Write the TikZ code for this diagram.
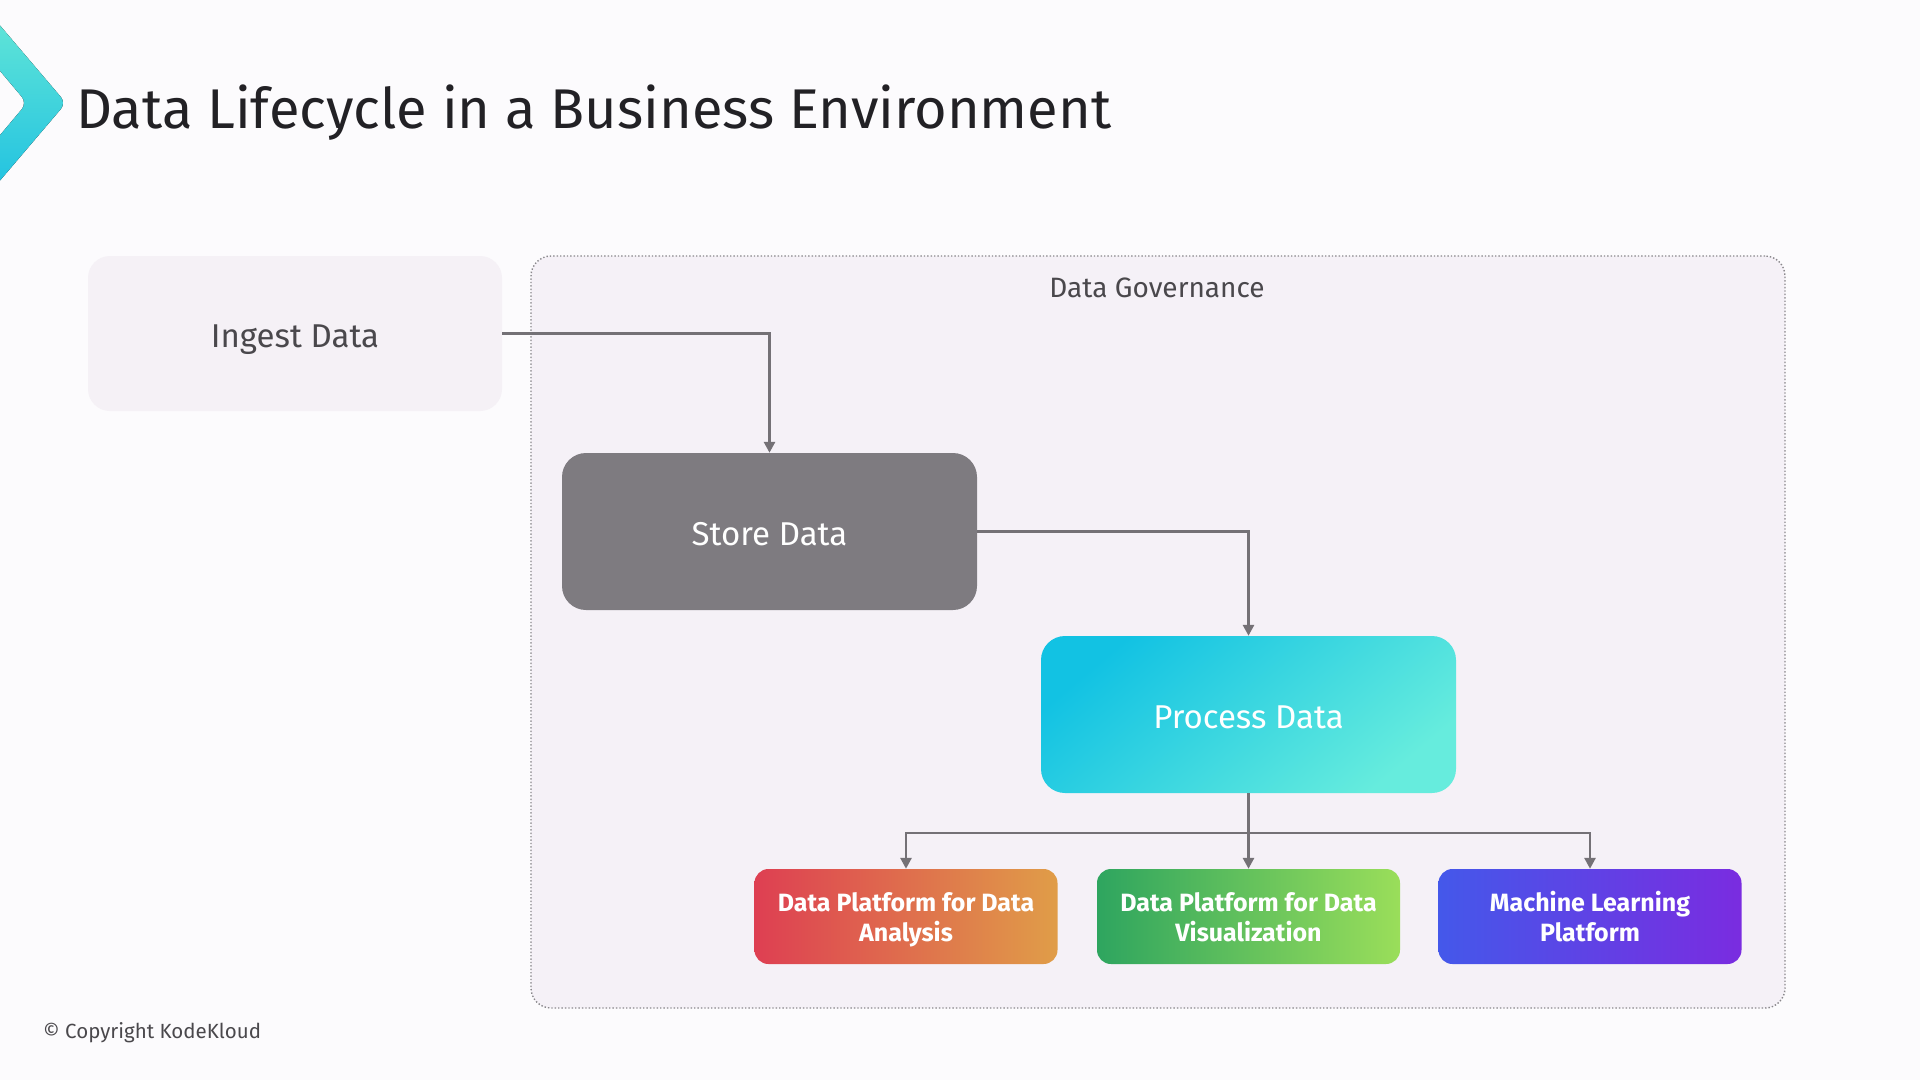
\documentclass[tikz,border=0pt]{standalone}
\usepackage{fontspec}
\setmainfont{Fira Sans}
\usetikzlibrary{arrows.meta}
\definecolor{bgc}{HTML}{FCFBFD}
\definecolor{lightbox}{HTML}{F5F1F6}
\definecolor{govfill}{HTML}{F5F1F7}
\definecolor{govline}{HTML}{8A888C}
\definecolor{storec}{HTML}{7E7B80}
\definecolor{arrowc}{HTML}{747176}
\definecolor{titlec}{HTML}{222125}
\definecolor{labelc}{HTML}{4A484C}
\definecolor{chevA}{HTML}{66E8D6}
\definecolor{chevB}{HTML}{1CBFE2}
\definecolor{procA}{HTML}{12C2E3}
\definecolor{procB}{HTML}{66ECDD}
\definecolor{redA}{HTML}{DE3F52}
\definecolor{redB}{HTML}{E09D48}
\definecolor{grnA}{HTML}{2EA55F}
\definecolor{grnB}{HTML}{9ADE5A}
\definecolor{bluA}{HTML}{4458EA}
\definecolor{bluB}{HTML}{7A2CE0}
\newcommand{\toprule}{\rule{0pt}{28pt}}
\begin{document}
\begin{tikzpicture}[x=1pt,y=-1pt,
  boxbase/.style={rectangle, inner sep=0pt, align=center},
  bigtext/.style={font=\fontsize{33}{38}\selectfont, text height=28pt, text depth=0pt},
  ingestbox/.style={boxbase, bigtext, fill=lightbox, rounded corners=22pt, minimum width=414pt, minimum height=155pt, text=labelc},
  govbox/.style={boxbase, fill=govfill, draw=govline, line width=1.4pt, dotted, rounded corners=20pt, minimum width=1254pt, minimum height=752pt},
  govlabel/.style={inner sep=0pt, text=labelc, font=\fontsize{28}{32}\selectfont},
  storebox/.style={boxbase, bigtext, fill=storec, rounded corners=24pt, minimum width=415pt, minimum height=157pt, text=white},
  procbox/.style={boxbase, bigtext, rounded corners=24pt, top color=procA, middle color=procA, bottom color=procB, shading angle=40, minimum width=415pt, minimum height=157pt, text=white},
  platbox/.style={boxbase, rounded corners=14pt, minimum width=303pt, minimum height=95pt, text=white, font=\fontsize{25}{30}\selectfont\bfseries},
  conn/.style={draw=arrowc, line width=2.8pt, -{Triangle[length=11pt,width=11pt]}}
]
\useasboundingbox (0,0) rectangle (1920,1080);
\fill[bgc] (0,0) rectangle (1920,1080);

% chevron logo
\fill[rounded corners=8pt, top color=chevA, bottom color=chevB]
  (-20,2) -- (66,103) -- (-20,204) -- (-20,159) -- (27,103) -- (-20,47) -- cycle;

% title
\node[anchor=base west, inner sep=0pt, text=titlec, font=\fontsize{56}{66}\selectfont] (title) at (76,128) {Data Lifecycle in a Business Environment};

% governance container
\node[govbox] (gov) at (1158,632) {};
\node[govlabel] (govl) at (1157,288) {Data Governance};

% main boxes
\node[ingestbox] (ingest) at (295,333.5) {Ingest Data};
\node[storebox] (store) at (769.5,531.5) {Store Data};
\node[procbox] (process) at (1248.5,714.5) {Process Data};

\node[platbox, left color=redA, right color=redB] (b1) at (906,916.5) {\toprule Data Platform for Data\\Analysis\strut};
\node[platbox, left color=grnA, right color=grnB] (b2) at (1248.5,916.5) {\toprule Data Platform for Data\\Visualization\strut};
\node[platbox, left color=bluA, right color=bluB] (b3) at (1590,916.5) {\toprule Machine Learning\\Platform\strut};

% connectors
\draw[conn] (ingest.east) -| (store.north);
\draw[conn] (store.east) -| (process.north);
\coordinate (split) at (1248.5,833);
\draw[conn] (process.south) -- (b2.north);
\draw[conn] (split) -| (b1.north);
\draw[conn] (split) -| (b3.north);

% footer
\node[anchor=west, inner sep=0pt, text=labelc, font=\fontsize{20.5}{24}\selectfont] (copy) at (43,1033) {© Copyright KodeKloud};
\end{tikzpicture}
\end{document}
